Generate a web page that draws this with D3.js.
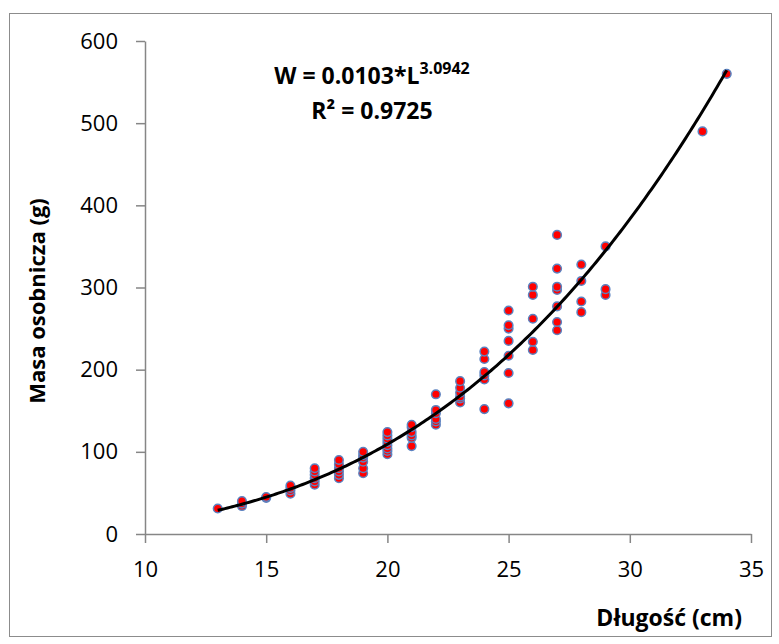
<!DOCTYPE html>
<html>
<head>
<meta charset="utf-8">
<script src="https://cdn.jsdelivr.net/npm/d3@7"></script>
<style>
  body { margin: 0; background: #fff; }
  #chart { width: 779px; height: 644px; }
  .tick text { font-family: "Open Sans", sans-serif; }
  .lbl { font-family: "Open Sans", sans-serif; font-weight: bold; }
</style>
</head>
<body>
<div id="chart"></div>
<script>
// data: length (cm) and body mass (g) of each fish
var lengths = [13, 14,14,14, 15,15, 16,16,16,16, 17,17,17,17,17,17, 18,18,18,18,18,18,
  19,19,19,19,19,19, 20,20,20,20,20,20,20,20, 21,21,21,21,21,21, 22,22,22,22,22,22,
  23,23,23,23,23,23, 24,24,24,24,24,24, 25,25,25,25,25,25,25, 26,26,26,26,26,
  27,27,27,27,27,27,27, 28,28,28,28, 29,29,29, 33, 34];
var masses = [31, 34,37,40, 44,45, 49,53,56,59, 60,64,68,72,76,80, 68,72,76,80,85,90,
  74,80,88,93,96,100, 97,101,104,108,112,116,120,124, 107,117,120,124,130,133, 133,137,140,147,151,170,
  160,165,167,172,178,186, 152,188,193,197,213,222, 159,196,217,235,250,254,272, 224,234,262,291,301,
  248,258,277,297,301,323,364, 270,283,308,328, 291,298,350, 490, 560];

// power trendline shown on the chart
var coefA = 0.0103, coefB = 3.0942;
var xTicks = [10, 15, 20, 25, 30, 35];
var yTicks = [0, 100, 200, 300, 400, 500, 600];

var data = lengths.map(function(l, i) { return {len: l, mass: masses[i]}; });

var W = 779, H = 644;
var margin = {top: 41, right: 28, bottom: 110, left: 145},
    width = W - margin.left - margin.right,
    height = H - margin.top - margin.bottom;

var svg = d3.select("#chart")
  .append("svg")
    .attr("width", W)
    .attr("height", H);

// outer chart frame
svg.append("rect")
    .attr("x", 9.5).attr("y", 13.5)
    .attr("width", 762).attr("height", 623)
    .attr("fill", "none")
    .attr("stroke", "#8c8c8c")
    .attr("stroke-width", 1);

var g = svg.append("g")
    .attr("transform", "translate(" + margin.left + "," + margin.top + ")");

var x = d3.scaleLinear().domain([10, 35]).range([0, width]);
var y = d3.scaleLinear().domain([0, 600]).range([height, 0]);

var xAxis = g.append("g")
    .attr("transform", "translate(0," + height + ")")
    .call(d3.axisBottom(x).tickValues(xTicks).tickSize(9).tickSizeOuter(0).tickPadding(18));

var yAxis = g.append("g")
    .call(d3.axisLeft(y).tickValues(yTicks).tickSize(9).tickSizeOuter(0).tickPadding(18));

[xAxis, yAxis].forEach(function(a) {
  a.select(".domain").attr("stroke", "#868686").attr("stroke-width", 1.5);
  a.selectAll(".tick line").attr("stroke", "#868686").attr("stroke-width", 1.5);
  a.selectAll(".tick text").attr("fill", "#000").style("font-size", "22px");
});

//// dots
g.selectAll(".dots")
    .data(data)
    .enter()
    .append("circle")
    .attr("class", "dots")
    .attr("r", 4.3)
    .attr("fill", "#ff0000")
    .attr("stroke", "#5b82c0")
    .attr("stroke-width", 1.5)
    .attr("cx", function(d) { return x(d.len); })
    .attr("cy", function(d) { return y(d.mass); });

//// trendline
var lenMin = d3.min(lengths), lenMax = d3.max(lengths);
var trend = d3.range(lenMin, lenMax + 0.01, 0.1).map(function(l) {
  return [l, coefA * Math.pow(l, coefB)];
});

g.append("path")
    .datum(trend)
    .attr("fill", "none")
    .attr("stroke", "#000")
    .attr("stroke-width", 3)
    .attr("d", d3.line()
      .x(function(d) { return x(d[0]); })
      .y(function(d) { return y(d[1]); }));

//// equation
var eq = svg.append("text")
    .attr("class", "lbl")
    .attr("x", 372).attr("y", 84)
    .attr("text-anchor", "middle")
    .style("font-size", "23px");
eq.append("tspan").text("W = 0.0103*L");
eq.append("tspan").attr("dy", -10).style("font-size", "16px").text("3.0942");

svg.append("text")
    .attr("class", "lbl")
    .attr("x", 372).attr("y", 119)
    .attr("text-anchor", "middle")
    .style("font-size", "23px")
    .text("R² = 0.9725");

//// axis titles
svg.append("text")
    .attr("class", "lbl")
    .attr("x", 742).attr("y", 626)
    .attr("text-anchor", "end")
    .style("font-size", "23px")
    .text("Długość (cm)");

svg.append("text")
    .attr("class", "lbl")
    .attr("transform", "translate(45," + 301 + ") rotate(-90)")
    .attr("text-anchor", "middle")
    .style("font-size", "22px")
    .text("Masa osobnicza (g)");
</script>
</body>
</html>
